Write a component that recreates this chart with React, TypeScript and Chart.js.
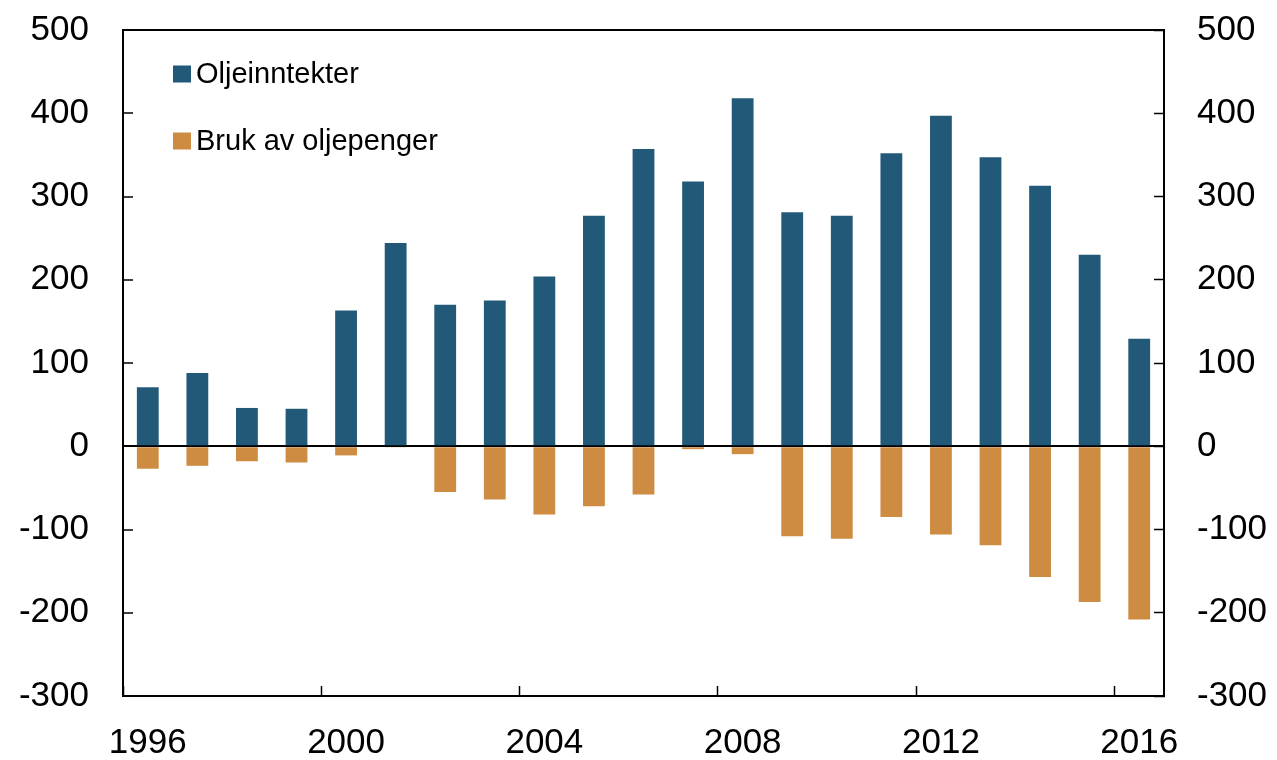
import React, { useEffect, useRef } from 'react';
import { Chart, registerables } from 'chart.js';

Chart.register(...registerables);

const years = ['1996', '1997', '1998', '1999', '2000', '2001', '2002', '2003', '2004', '2005', '2006', '2007', '2008', '2009', '2010', '2011', '2012', '2013', '2014', '2015', '2016'];
const oilRevenue = [71, 88, 46, 45, 163, 244, 170, 175, 204, 277, 357, 318, 418, 281, 277, 352, 397, 347, 313, 230, 129];
const oilSpending = [-27, -23.5, -18, -19.5, -11, -1, -55, -64, -82, -72, -58, -3.5, -9.5, -108, -111, -85, -106, -119, -157, -187, -208];
const seriesNames = ['Oljeinntekter', 'Bruk av oljepenger'];
const seriesColors = ['#235978', '#CE8B42'];
const yMin = -300;
const yMax = 500;
const yStep = 100;
const xLabelEvery = 4;

const FONT = '"Liberation Sans", Arial, Helvetica, sans-serif';

const insideLegend = {
  id: 'insideLegend',
  afterDraw(chart: any) {
    const { ctx, chartArea } = chart;
    ctx.save();
    ctx.font = `29px ${FONT}`;
    ctx.textBaseline = 'middle';
    ctx.textAlign = 'left';
    chart.data.datasets.forEach((ds: any, i: number) => {
      const cy = chartArea.top + 44 + i * 67;
      ctx.fillStyle = ds.backgroundColor;
      ctx.fillRect(chartArea.left + 50, cy - 8.5, 18, 17);
      ctx.fillStyle = '#000';
      ctx.fillText(ds.label, chartArea.left + 73, cy + 1);
    });
    ctx.restore();
  },
};

const zeroPad = (s: any) => {
  s.paddingTop = 0;
  s.paddingBottom = 0;
};

export default function App() {
  const canvasRef = useRef<HTMLCanvasElement | null>(null);

  useEffect(() => {
    if (!canvasRef.current) return;
    Chart.defaults.font.family = FONT;
    const chart = new Chart(canvasRef.current, {
      type: 'bar',
      data: {
        labels: years,
        datasets: [
          {
            label: seriesNames[0],
            data: oilRevenue,
            backgroundColor: seriesColors[0],
            barPercentage: 0.44,
            categoryPercentage: 1,
            borderWidth: 0,
          },
          {
            label: seriesNames[1],
            data: oilSpending,
            backgroundColor: seriesColors[1],
            barPercentage: 0.44,
            categoryPercentage: 1,
            borderWidth: 0,
          },
        ],
      },
      options: {
        animation: false,
        responsive: true,
        maintainAspectRatio: false,
        layout: { padding: { top: 30, left: 0, right: 0, bottom: 0 } },
        plugins: {
          legend: { display: false },
          tooltip: { enabled: false },
        },
        scales: {
          x: {
            stacked: true,
            position: 'bottom',
            grid: {
              display: true,
              offset: true,
              drawOnChartArea: false,
              drawTicks: true,
              tickLength: -10,
              tickWidth: 1.5,
              tickColor: (c: any) => (c.index % xLabelEvery === 0 ? '#000' : 'rgba(0,0,0,0)'),
            },
            border: { display: true, color: '#000', width: 2 },
            ticks: {
              autoSkip: false,
              maxRotation: 0,
              minRotation: 0,
              padding: 36,
              color: '#000',
              font: { size: 35, family: FONT },
              callback: (_v: any, i: number) => (i % xLabelEvery === 0 ? years[i] : ''),
            },
            afterFit: (s: any) => {
              s.height = 64;
            },
          },
          xTop: {
            type: 'category',
            position: 'top',
            grid: { display: true, drawOnChartArea: false, drawTicks: false },
            ticks: { display: false },
            border: { display: true, color: '#000', width: 2 },
            afterFit: (s: any) => {
              s.height = 0;
            },
          },
          y: {
            stacked: true,
            position: 'left',
            min: yMin,
            max: yMax,
            z: 1,
            ticks: {
              stepSize: yStep,
              padding: 44,
              color: '#000',
              font: { size: 35, family: FONT },
            },
            grid: {
              drawOnChartArea: true,
              color: (c: any) => (c.tick && c.tick.value === 0 ? '#000' : 'rgba(0,0,0,0)'),
              lineWidth: 2,
              drawTicks: true,
              tickLength: -10,
              tickColor: '#000',
              tickWidth: 1.5,
            },
            border: { display: true, color: '#000', width: 2 },
            afterFit: (s: any) => {
              s.width = 123;
              zeroPad(s);
            },
          },
          y2: {
            position: 'right',
            min: yMin,
            max: yMax,
            ticks: {
              stepSize: yStep,
              padding: 43,
              color: '#000',
              font: { size: 35, family: FONT },
            },
            grid: {
              drawOnChartArea: false,
              drawTicks: true,
              tickLength: -10,
              tickColor: '#000',
              tickWidth: 1.5,
            },
            border: { display: true, color: '#000', width: 2 },
            afterFit: (s: any) => {
              s.width = 113;
              zeroPad(s);
            },
          },
        },
      },
      plugins: [insideLegend],
    } as any);
    return () => chart.destroy();
  }, []);

  return (
    <div style={{ position: 'fixed', left: 0, top: 0, width: 1277, height: 760, background: '#fff' }}>
      <canvas ref={canvasRef} />
    </div>
  );
}
